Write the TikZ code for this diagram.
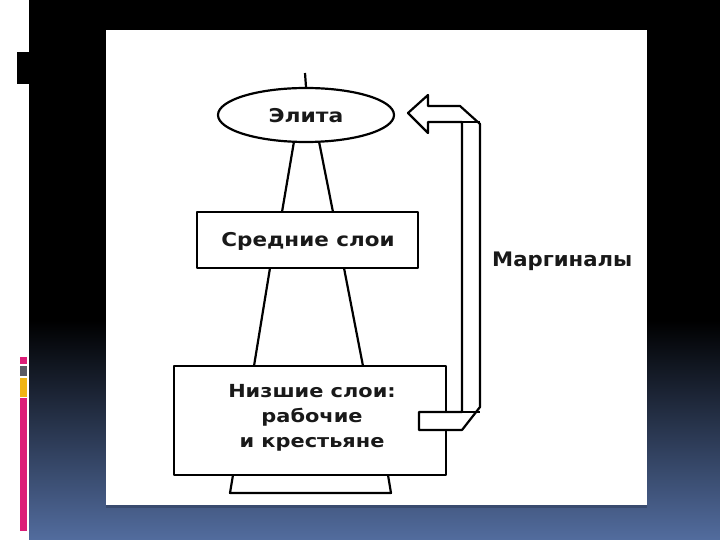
\documentclass[tikz,border=0pt]{standalone}
\usepackage{fontspec}
\setmainfont{DejaVu Sans}
\usetikzlibrary{shapes.geometric}
\definecolor{slideblue}{RGB}{82,108,158}
\definecolor{barpink}{RGB}{220,30,120}
\definecolor{bargray}{RGB}{90,90,100}
\definecolor{baryellow}{RGB}{240,180,20}
\tikzset{
  ln/.style={draw=black, line width=2.2pt, line join=round},
  lbl/.style={font=\bfseries\fontsize{19}{25}\selectfont, align=center, text=black!90, inner sep=0pt},
}
\begin{document}
\begin{tikzpicture}[x=1pt,y=-1pt]
\useasboundingbox (0,0) rectangle (720,540);
% slide background
\fill[white] (0,0) rectangle (720,540);
\fill[black] (29,0) rectangle (720,320);
\shade[top color=black, bottom color=slideblue] (29,320) rectangle (720,540);
% left decorations
\fill[black] (17,52) rectangle (29,84);
\fill[barpink] (20,357) rectangle (27,364);
\fill[bargray] (20,366) rectangle (27,376);
\fill[baryellow] (20,378) rectangle (27,397);
\fill[barpink] (20,398) rectangle (27,531);
% white picture
\fill[slideblue!70!black] (106,505) rectangle (647,508);
\fill[white] (106,30) rectangle (647,505);

% diagram
\coordinate (spT) at (305,73);
\node[ln, ellipse, minimum width=176, minimum height=54, inner sep=0pt] (elite) at (306,115) {};
\node[lbl, xscale=1.15] (eliteT) at (306,116) {Элита};
\draw[ln] (spT) -- (elite.north);
\node[ln, rectangle, minimum width=221, minimum height=56, inner sep=0pt] (mid) at (307.5,240) {};
\node[lbl, xscale=1.13] (midT) at (308,241) {Средние слои};
\node[ln, rectangle, minimum width=272, minimum height=109, inner sep=0pt] (low) at (310,420.5) {};
\node[lbl, font=\bfseries\fontsize{18}{25}\selectfont, xscale=1.16] (lowT) at (312,418) {Низшие слои:\\рабочие\\и крестьяне};

% pyramid legs
\coordinate (a1) at (294,141.5);
\coordinate (a2) at (319,141.5);
\coordinate (a3) at (282,212);
\coordinate (a4) at (333,212);
\draw[ln] (a1) -- (a3) (a2) -- (a4);
\coordinate (b1) at (270,268);
\coordinate (b2) at (344,268);
\coordinate (b3) at (254,366);
\coordinate (b4) at (363,366);
\draw[ln] (b1) -- (b3) (b2) -- (b4);
% base
\coordinate (c1) at (233,475);
\coordinate (c2) at (388,475);
\coordinate (c3) at (230,493);
\coordinate (c4) at (391,493);
\draw[ln] (c1) -- (c3) -- (c4) -- (c2);

% margin arrow (folded ribbon)
\coordinate (tip) at (408,113);
\coordinate (h1) at (428,95);
\coordinate (h2) at (428,106);
\coordinate (h3) at (460,106);
\coordinate (h4) at (480,124);
\coordinate (h5) at (480,407);
\coordinate (h6) at (462,430);
\coordinate (h7) at (419,430);
\coordinate (h8) at (419,412);
\coordinate (h9) at (462,412);
\coordinate (h10) at (462,122);
\coordinate (h11) at (428,122);
\coordinate (h12) at (428,133);
\filldraw[ln, fill=white] (tip) -- (h1) -- (h2) -- (h3) -- (h4) -- (h5) -- (h6) -- (h7) -- (h8) -- (h9) -- (h10) -- (h11) -- (h12) -- cycle;
\coordinate (f1) at (480,122);
\coordinate (f2) at (480,412);
\draw[ln] (h10) -- (f1) (h9) -- (f2);
\node[lbl, font=\bfseries\fontsize{20}{24}\selectfont, xscale=1.06, anchor=west] (marg) at (492,261) {Маргиналы};
\end{tikzpicture}
\end{document}
